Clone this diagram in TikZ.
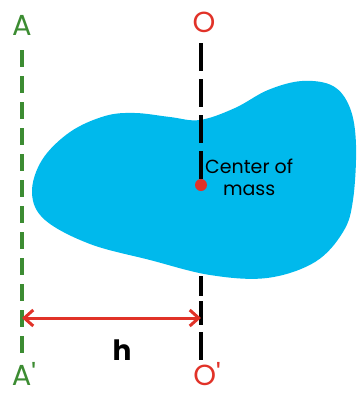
\documentclass[tikz,border=0pt]{standalone}
\usepackage{fontspec}
\setmainfont{Poppins}
\usetikzlibrary{arrows.meta}
\definecolor{blobc}{RGB}{0,185,236}
\definecolor{axg}{RGB}{60,140,50}
\definecolor{axr}{RGB}{225,50,40}
\begin{document}
\begin{tikzpicture}[x=1pt,y=-1pt,
  lbl/.style={inner sep=0pt,font=\fontsize{29}{29}\selectfont},
  gaxis/.style={axg,line width=4pt,dash pattern=on 17pt off 9pt},
  baxis/.style={black,line width=4pt,dash pattern=on 28pt off 8pt},
  dimarrow/.style={axr,line width=3pt,{Straight Barb[length=9pt,width=16pt,line width=3pt]}-{Straight Barb[length=9pt,width=16pt,line width=3pt]}}]
\useasboundingbox (0,0) rectangle (358,397);
% blob
\fill[blobc] plot[smooth cycle,tension=0.6] coordinates {
 (32,193) (42,160) (70,132) (105,116) (135,113) (170,117) (200,120)
 (235,108) (268,90) (302,81) (333,86) (350,108) (356,145) (353,200)
 (343,232) (315,262) (267,278) (210,275) (150,260) (90,244) (45,220)};
% labels
\node[lbl,text=axg] (A) at (22,25) {A};
\node[lbl,text=axg] (A2) at (24,374) {A\textquotesingle};
\node[lbl,text=axr] (O) at (204,22) {O};
\node[lbl,text=axr] (O2) at (207,374) {O\textquotesingle};
\coordinate (Atop) at (22,50);
\coordinate (Abot) at (22,360);
\coordinate (Otop) at (201,43);
\coordinate (cm) at (201,185);
\coordinate (Obtop) at (201,276);
\coordinate (Obot) at (201,360);
\coordinate (Ah) at (22,318);
\coordinate (Oh) at (201,318);
\draw[gaxis] (Atop) -- (Abot);
\draw[baxis] (Otop) -- (cm);
\draw[black,line width=4pt] (Obtop) -- (201,296) (201,301) -- (201,325) (201,332) -- (Obot);
\fill[axr] (cm) circle (6);
\node[anchor=west,inner sep=0pt,align=center,font=\fontsize{19}{22}\selectfont] (txt) at (205,177) {Center of\\mass};
\draw[dimarrow] (Ah) -- (Oh);
\node[inner sep=0pt,font=\bfseries\fontsize{28}{28}\selectfont] (h) at (122,350) {h};
\end{tikzpicture}
\end{document}
